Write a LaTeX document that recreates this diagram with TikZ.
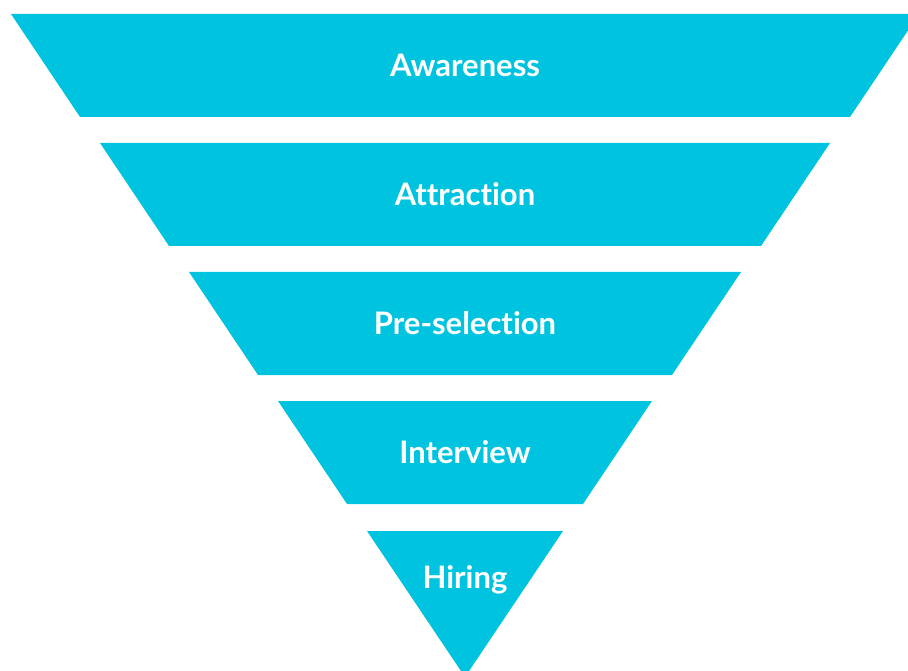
\documentclass[tikz,border=0pt]{standalone}
\usepackage{fontspec}
\setmainfont{Lato}[Ligatures=NoCommon]
\definecolor{funnelblue}{HTML}{00C4DF}
\tikzset{
  stagelabel/.style={text=white, font=\fontsize{31}{36}\selectfont\bfseries, inner sep=0pt},
}

\begin{document}
\begin{tikzpicture}[x=1pt, y=-1pt]
\useasboundingbox (0,0) rectangle (908,671);
\clip (0,0) rectangle (908,671);
% Funnel geometry
\pgfmathsetmacro{\cx}{465}
\pgfmathsetmacro{\h}{103}
\pgfmathsetmacro{\slope}{0.67}
% Trapezoid stages
\foreach \lab [count=\i from 0] in {Awareness, Attraction, Pre-selection, Interview} {
  \pgfmathsetmacro{\ytop}{14+129*\i}
  \pgfmathsetmacro{\wtop}{454-89*\i}
  \pgfmathsetmacro{\wbot}{\wtop-\slope*\h}
  \fill[funnelblue] ({\cx-\wtop},\ytop) -- ({\cx+\wtop},\ytop) -- ({\cx+\wbot},{\ytop+\h}) -- ({\cx-\wbot},{\ytop+\h}) -- cycle;
  \node[stagelabel] (stage\i) at (\cx,{\ytop+\h/2}) {\lab};
}
% Last stage is a triangle
\fill[funnelblue] ({\cx-98},531) -- ({\cx+98},531) -- (\cx,677) -- cycle;
\node[stagelabel] (stage4) at (\cx,580) {Hiring};
\end{tikzpicture}
\end{document}
